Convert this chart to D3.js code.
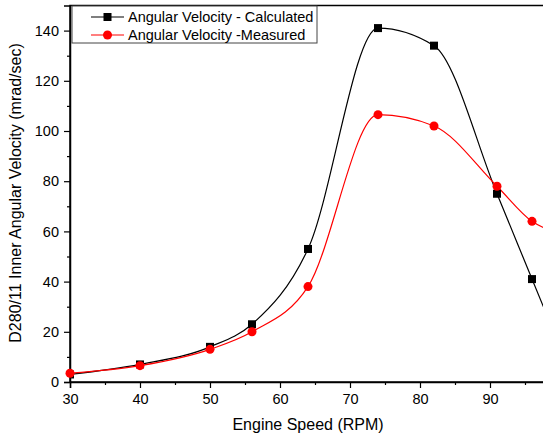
<!DOCTYPE html>
<html>
<head>
<meta charset="utf-8">
<script src="https://cdn.jsdelivr.net/npm/d3@7"></script>
<style>
body { margin: 0; background: #fff; }
</style>
</head>
<body>
<div id="chart"></div>
<script>
// Data (last point sits just past the right edge, where the lines leave the frame)
const speeds = [30, 40, 50, 56, 64, 74, 82, 91, 96, 100];
const calculated = [3, 7, 14, 23, 53, 141, 134, 75, 41, 14];
const measured = [3.5, 6.5, 13, 20, 38, 106.5, 102, 78, 64, 59];
const seriesNames = ["Angular Velocity - Calculated", "Angular Velocity -Measured"];
const xTicks = [30, 40, 50, 60, 70, 80, 90];
const yTicks = [0, 20, 40, 60, 80, 100, 120, 140];

const width = 543, height = 434;

const svg = d3.select("#chart")
  .append("svg")
  .attr("width", width)
  .attr("height", height)
  .style("font-family", "'Liberation Sans', Arial, sans-serif");

// scales
const x = d3.scaleLinear().domain([30, 100]).range([70, 560]);
const y = d3.scaleLinear().domain([0, 150]).range([382, 5.5]);

// clip to plot area
svg.append("clipPath").attr("id", "plot")
  .append("rect")
  .attr("x", x(30)).attr("y", y(150))
  .attr("width", x(100) - x(30)).attr("height", y(0) - y(150));

// frame (right side is off the page)
svg.append("rect")
  .attr("x", x(30)).attr("y", y(150))
  .attr("width", x(100) - x(30)).attr("height", y(0) - y(150))
  .attr("fill", "none")
  .attr("stroke", "#000")
  .attr("stroke-width", 1.5);

// X axis
const xAxis = svg.append("g")
  .attr("transform", `translate(0,${y(0)})`)
  .call(d3.axisBottom(x).tickValues(xTicks).tickSize(6).tickPadding(6).tickFormat(d3.format("d")));
svg.append("g")
  .attr("transform", `translate(0,${y(0)})`)
  .call(d3.axisBottom(x).tickValues(d3.range(35, 100, 10)).tickSize(3).tickFormat(""))
  .select(".domain").remove();
xAxis.select(".domain").attr("stroke-width", 1.5);

// Y axis
const yAxis = svg.append("g")
  .attr("transform", `translate(${x(30)},0)`)
  .call(d3.axisLeft(y).tickValues(yTicks).tickSize(6).tickPadding(5));
svg.append("g")
  .attr("transform", `translate(${x(30)},0)`)
  .call(d3.axisLeft(y).tickValues(d3.range(10, 150, 20)).tickSize(3).tickFormat(""))
  .select(".domain").remove();
yAxis.select(".domain").attr("stroke-width", 1.5);

svg.selectAll(".tick text")
  .style("font-size", "14.5px")
  .style("font-family", "'Liberation Sans', Arial, sans-serif")
  .attr("fill", "#000");
svg.selectAll(".tick line").attr("stroke-width", 1.2);

// axis titles
svg.append("text")
  .attr("x", 308)
  .attr("y", 430)
  .attr("text-anchor", "middle")
  .style("font-size", "16px")
  .text("Engine Speed (RPM)");

svg.append("text")
  .attr("transform", "translate(21,193) rotate(-90)")
  .attr("text-anchor", "middle")
  .style("font-size", "16px")
  .text("D280/11 Inner Angular Velocity (mrad/sec)");

// lines
const plot = svg.append("g").attr("clip-path", "url(#plot)");

const line = d3.line()
  .x(d => x(d[0]))
  .y(d => y(d[1]))
  .curve(d3.curveMonotoneX);

const calcPts = speeds.map((s, i) => [s, calculated[i]]);
const measPts = speeds.map((s, i) => [s, measured[i]]);

plot.append("path")
  .attr("d", line(calcPts))
  .attr("fill", "none")
  .attr("stroke", "#000")
  .attr("stroke-width", 1.2);

plot.append("path")
  .attr("d", line(measPts))
  .attr("fill", "none")
  .attr("stroke", "#ff0000")
  .attr("stroke-width", 1.2);

// markers
plot.selectAll(".sq")
  .data(calcPts)
  .enter()
  .append("rect")
  .attr("x", d => x(d[0]) - 4)
  .attr("y", d => y(d[1]) - 4)
  .attr("width", 8)
  .attr("height", 8)
  .attr("fill", "#000");

svg.selectAll(".dot")
  .data(measPts)
  .enter()
  .append("circle")
  .attr("cx", d => x(d[0]))
  .attr("cy", d => y(d[1]))
  .attr("r", 4.5)
  .attr("fill", "#ff0000");

// legend
const legend = svg.append("g");
legend.append("rect")
  .attr("x", 72).attr("y", 6)
  .attr("width", 245).attr("height", 37)
  .attr("fill", "#fff")
  .attr("stroke", "#444")
  .attr("stroke-width", 1);

const legendColors = ["#000", "#ff0000"];
seriesNames.forEach((name, i) => {
  const ly = 17 + i * 18;
  legend.append("line")
    .attr("x1", 91).attr("x2", 124)
    .attr("y1", ly).attr("y2", ly)
    .attr("stroke", legendColors[i])
    .attr("stroke-width", 1.2);
  if (i === 0) {
    legend.append("rect")
      .attr("x", 103.5).attr("y", ly - 4)
      .attr("width", 8).attr("height", 8)
      .attr("fill", "#000");
  } else {
    legend.append("circle")
      .attr("cx", 107.5).attr("cy", ly)
      .attr("r", 4.5)
      .attr("fill", "#ff0000");
  }
  legend.append("text")
    .attr("x", 128)
    .attr("y", ly + 5)
    .style("font-size", "14.5px")
    .text(name);
});
</script>
</body>
</html>
